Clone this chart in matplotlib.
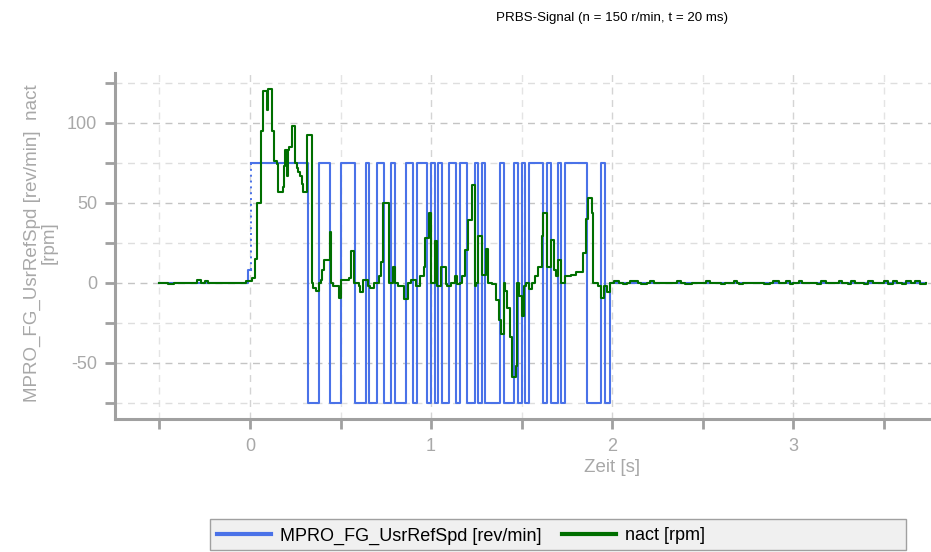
import matplotlib
matplotlib.use("Agg")
import matplotlib.pyplot as plt
from matplotlib.patches import Rectangle
from matplotlib.lines import Line2D
from matplotlib.ticker import MultipleLocator
import numpy as np
from matplotlib import font_manager

# ---------------- data ----------------
title = "PRBS-Signal (n = 150 r/min, t = 20 ms)"
xlabel = "Zeit [s]"
ylabel = "MPRO_FG_UsrRefSpd [rev/min]  nact\n[rpm]"
ref_label = "MPRO_FG_UsrRefSpd [rev/min]"
nact_label = "nact [rpm]"

# reference speed (PRBS) : breakpoints, step-post
ref_t = [-0.50, -0.01, 0.005, 0.32, 0.38, 0.44, 0.50, 0.58, 0.64, 0.66, 0.70, 0.74,
         0.78, 0.80, 0.86, 0.90, 0.92, 0.98, 1.00, 1.02, 1.04, 1.06, 1.10, 1.14,
         1.16, 1.20, 1.24, 1.26, 1.28, 1.30, 1.38, 1.40, 1.46, 1.48, 1.50, 1.52,
         1.54, 1.62, 1.64, 1.66, 1.70, 1.72, 1.74, 1.86, 1.94, 1.96, 1.99, 3.73]
ref_v = [0, 8, 75, -75, 75, -75, 75, -75, 75, -75, 75, -75,
         75, -75, 75, -75, 75, -75, 75, -75, 75, -75, 75, -75,
         75, -75, 75, -75, 75, -75, 75, -75, 75, -75, 75, -75,
         75, -75, 75, -75, 75, -75, 75, -75, 75, -75, 0, 0]

# actual speed : breakpoints, step-post
nact_t = [-0.50, -0.45, -0.42, -0.29, -0.27, -0.25, -0.23, -0.02, 0.01, 0.028, 0.04,
          0.059, 0.074, 0.092, 0.098, 0.12, 0.133, 0.147, 0.157, 0.18, 0.188, 0.193,
          0.203, 0.21, 0.217, 0.23, 0.249, 0.258, 0.267, 0.276, 0.286, 0.295, 0.317,
          0.344, 0.35, 0.365, 0.38, 0.39, 0.40, 0.41, 0.44, 0.45, 0.46, 0.49, 0.50,
          0.545, 0.56, 0.575, 0.60, 0.61, 0.625, 0.65, 0.665, 0.685, 0.71, 0.725,
          0.735, 0.765, 0.79, 0.80, 0.82, 0.85, 0.87, 0.89, 0.915, 0.94, 0.96, 0.967,
          0.99, 1.00, 1.02, 1.03, 1.055, 1.08, 1.09, 1.11, 1.13, 1.145, 1.16, 1.17,
          1.19, 1.205, 1.225, 1.24, 1.25, 1.26, 1.28, 1.305, 1.315, 1.335, 1.36, 1.375,
          1.385, 1.40, 1.41, 1.42, 1.435, 1.446, 1.47, 1.477, 1.488, 1.50, 1.513,
          1.525, 1.54, 1.556, 1.575, 1.59, 1.61, 1.62, 1.64, 1.66, 1.68, 1.69, 1.70,
          1.715, 1.74, 1.77, 1.80, 1.84, 1.854, 1.869, 1.887, 1.893, 1.92, 1.94, 1.955,
          1.97, 1.99, 2.01, 2.04, 2.06, 2.08, 2.10, 2.14, 2.16, 2.19, 2.21, 2.23,
          2.36, 2.38, 2.40, 2.44, 2.52, 2.54, 2.60, 2.62, 2.67, 2.69, 2.70, 2.72,
          2.84, 2.87, 2.89, 2.92, 2.96, 2.98, 3.00, 3.03, 3.05, 3.13, 3.15, 3.18,
          3.25, 3.27, 3.30, 3.32, 3.34, 3.39, 3.41, 3.44, 3.50, 3.52, 3.55, 3.57,
          3.60, 3.62, 3.65, 3.67, 3.70, 3.73]
nact_v = [0, -1, 0, 1.5, 0, 1, 0, 1, 3, 15, 50,
          95, 120, 108, 121, 95, 76, 74, 57, 60, 73, 83,
          67, 83, 85, 98, 75, 72, 69, 67, 62, 57, 92,
          0, -3, -5, 0, 2, 8, 14, 32, 0, -2, -9.5, 2,
          3, 20, 0, -2, -6, 2, -2, -3, 0, 4, 13,
          50, 0, 10, 0, -2, -10, 0, 2, -2, 4, 10, 28,
          43.5, 0, 26, -2, 10, -1, -2, 0, 4, -1, 0, 4,
          20.6, 39, 61, -2, 0, 29, 5, 21, 0, -1, -11, -23,
          -32, 0, -5, -16, -33.5, -58.5, -52, 0, -8, -21, -2,
          0, -4, 0, 4, 10, 29, 43.5, 10, 27, 8, 4, 14,
          0, 4, 5, 7, 18.5, 40, 53, 43.5, 0, -2, -9.6, -2,
          -6, 0, 1, 0, -1, 0, 1, 0, -1, 0, 1, 0,
          1, 0, -1, 0, 1, 0, -1, 0, 1, 0, -1, 0,
          -1, 0, 1, 0, 1, -1, 0, 1, 0, -1, 1, 0,
          1, 0, -1, 1, 0, -1, 1, 0, 1, -1, 1, 0,
          -1, 1, 0, 1, -1, 0]

# ---------------- style ----------------
avail = {f.name for f in font_manager.fontManager.ttflist}
fam = "Liberation Sans" if "Liberation Sans" in avail else "DejaVu Sans"
plt.rcParams['font.family'] = [fam, 'DejaVu Sans']
plt.rcParams['axes.unicode_minus'] = False

blue = "#4a72e8"
green = "#006f00"
gray = "#a0a0a0"
tickc = "#a8a8a8"

fig = plt.figure(figsize=(9.31, 5.52), dpi=100)
W, H = 931, 552
ax = fig.add_axes([115 / W, 1 - 419 / H, (931 - 115) / W, (419 - 73) / H])

# reference: split at the first jump to full level to show dotted edge
k = 2
t1 = ref_t[:k] + [ref_t[k]]
v1 = ref_v[:k] + [ref_v[k - 1]]
ax.plot(t1, v1, drawstyle='steps-post', color=blue, lw=1.5, zorder=3)
ax.plot(ref_t[k:], ref_v[k:], drawstyle='steps-post', color=blue, lw=1.5, zorder=3)
ax.vlines(ref_t[k], ref_v[k - 1], ref_v[k], colors=blue, linestyles=(0, (1, 2)), lw=1.4, zorder=3)

ax.plot(nact_t, nact_v, drawstyle='steps-post', color=green, lw=1.5, zorder=4)

ax.set_xlim(-0.745, 3.76)
ax.set_ylim(-85, 131)

ax.xaxis.set_major_locator(MultipleLocator(1))
ax.xaxis.set_minor_locator(MultipleLocator(0.5))
ax.yaxis.set_major_locator(MultipleLocator(50))
ax.yaxis.set_minor_locator(MultipleLocator(25))

ax.grid(which='major', axis='y', color='#c4c4c4', ls=(0, (5, 4)), lw=1.0)
ax.grid(which='minor', axis='y', color='#dedede', ls=(0, (5, 4)), lw=1.0)
ax.grid(which='major', axis='x', color='#d4d4d4', ls=(0, (5, 4)), lw=1.0)
ax.grid(which='minor', axis='x', color='#e4e4e4', ls=(0, (5, 4)), lw=1.0)
ax.set_axisbelow(True)

for s in ['top', 'right']:
    ax.spines[s].set_visible(False)
for s in ['left', 'bottom']:
    ax.spines[s].set_color(gray)
    ax.spines[s].set_linewidth(2.2)

ax.tick_params(which='both', direction='out', length=7, width=2, color=gray,
               labelcolor=tickc, labelsize=13)
ax.tick_params(axis='x', pad=7)
ax.tick_params(axis='y', pad=6)

fig.text(612 / W, 1 - 467 / H, xlabel, ha='center', va='center', color=tickc, fontsize=13.5)
fig.text(41 / W, 1 - 243 / H, ylabel, ha='center', va='center', rotation=90,
         color=tickc, fontsize=13.5, linespacing=1.0, multialignment='center')
fig.text(612 / W, 1 - 18 / H, title, ha='center', va='center', color='black', fontsize=9.6)

# legend box
fig.patches.append(Rectangle((210 / W, 1 - 550 / H), (906 - 210) / W, (550 - 519) / H,
                             transform=fig.transFigure, facecolor='#f0f0f0',
                             edgecolor='#a0a0a0', lw=1.0, zorder=0))
handles = [Line2D([], [], color=blue, lw=3), Line2D([], [], color=green, lw=3)]
fig.legend(handles, [ref_label, nact_label], loc='center left',
           bbox_to_anchor=(217 / W, 1 - 536 / H), ncol=2, frameon=False,
           fontsize=13.0, handlelength=3.0, handletextpad=0.5, columnspacing=1.1,
           borderaxespad=0, borderpad=0)

fig.savefig("out.png", dpi=100)
